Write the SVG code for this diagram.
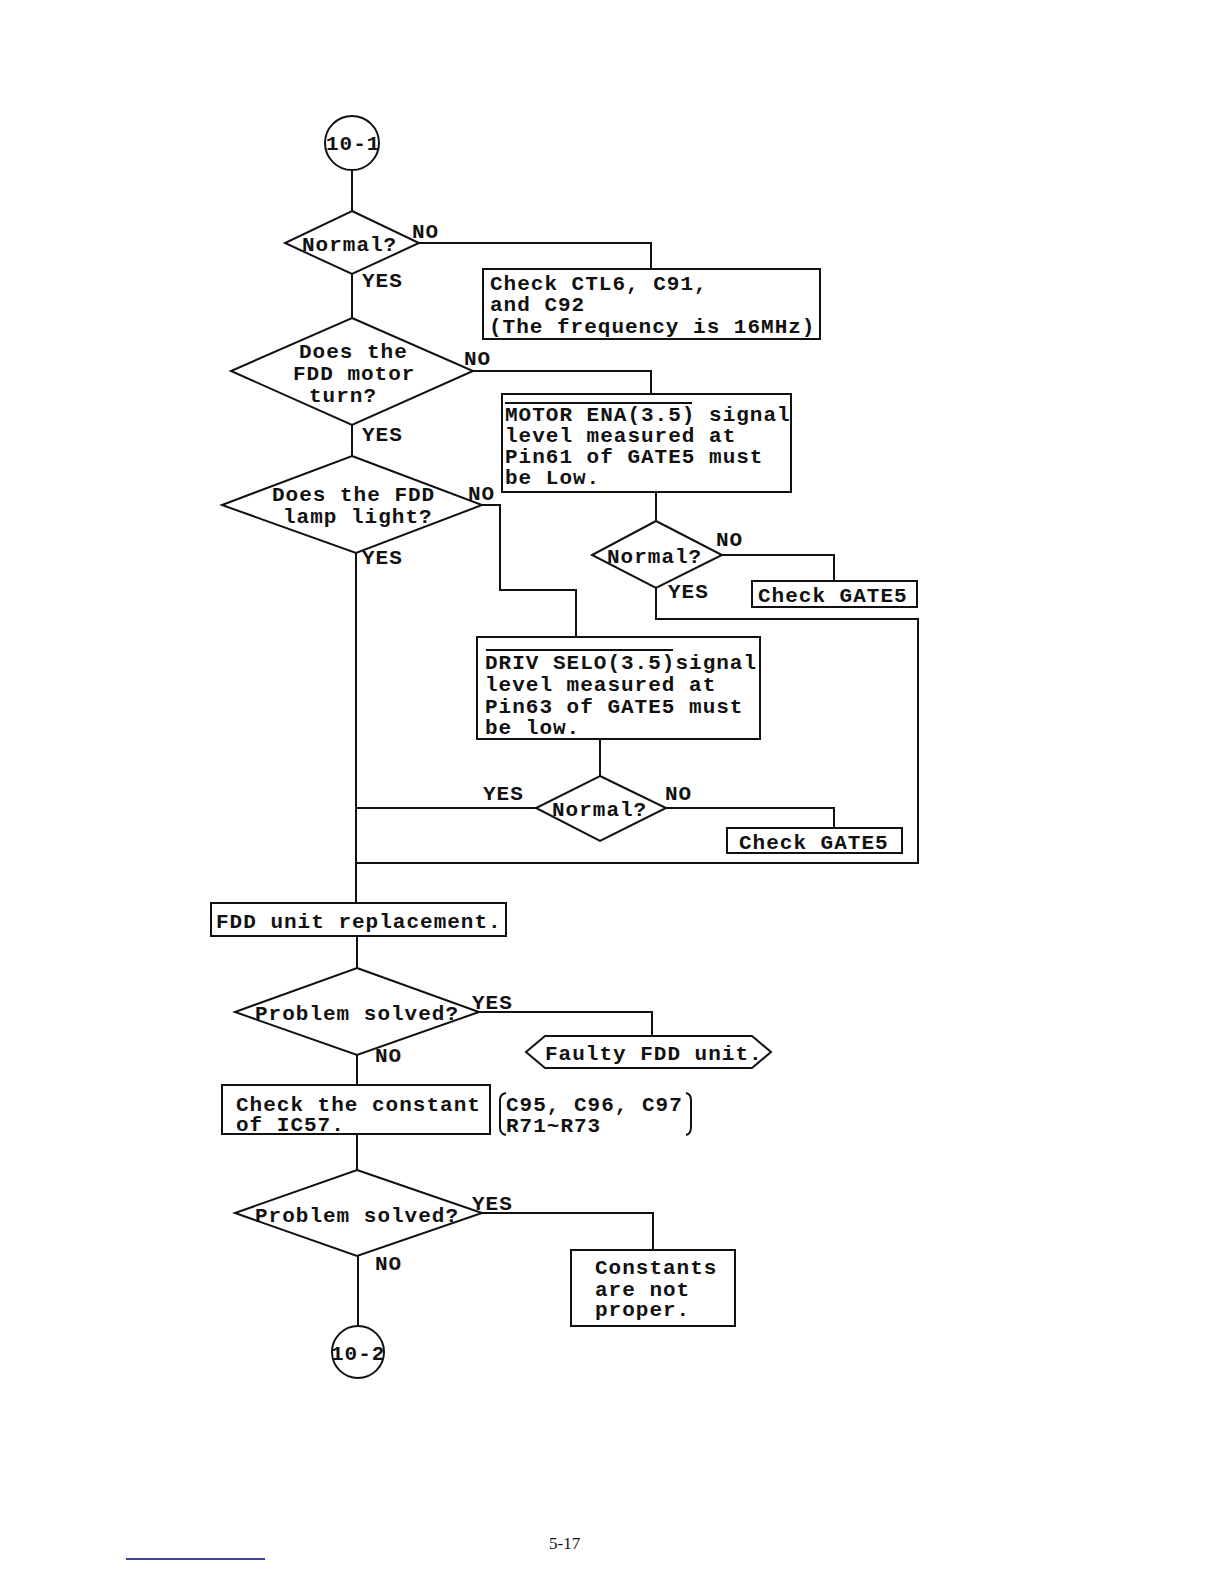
<svg xmlns="http://www.w3.org/2000/svg" width="1224" height="1584" viewBox="0 0 1224 1584">
<style>
.s{fill:none;stroke:#111;stroke-width:2;stroke-linejoin:miter}
.n{fill:#fff;stroke:#111;stroke-width:2}
.t{font-family:"Liberation Mono","DejaVu Sans Mono",monospace;font-size:21px;font-weight:bold;letter-spacing:1px;fill:#111}
.c{text-anchor:middle}
.f{font-family:"Liberation Serif",serif;font-size:17px;fill:#111}
</style>
<rect width="1224" height="1584" fill="#fff"/>
<g id="connectors" class="s">
<path d="M352,170 V211"/>
<path d="M419,243 H651 V269"/>
<path d="M352,274 V318"/>
<path d="M473,371 H651 V394"/>
<path d="M352,425 V456"/>
<path d="M482,505 H500 V590 H576 V637"/>
<path d="M356,553 V903"/>
<path d="M656,492 V521"/>
<path d="M722,555 H834 V581"/>
<path d="M656,588 V619 H918 V863 H356"/>
<path d="M600,739 V776"/>
<path d="M536,808 H356"/>
<path d="M666,808 H834 V828"/>
<path d="M357,936 V968"/>
<path d="M479,1012 H652 V1036"/>
<path d="M357,1055 V1085"/>
<path d="M357,1134 V1170"/>
<path d="M482,1213 H653 V1250"/>
<path d="M358,1256 V1326"/>
</g>
<g id="start">
<circle class="n" cx="352" cy="143" r="27"/>
<text class="t" x="326" y="150">10-1</text>
</g>
<g id="d1">
<polygon class="n" points="352,211 419,243 352,274 285,243"/>
<text class="t" x="302" y="251">Normal?</text>
<text class="t" x="412" y="238">NO</text>
<text class="t" x="362" y="287">YES</text>
</g>
<g id="b1">
<rect class="n" x="483" y="269" width="337" height="70"/>
<text class="t" x="490" y="290">Check CTL6, C91,</text>
<text class="t" x="490" y="311">and C92</text>
<text class="t" x="489" y="333">(The frequency is 16MHz)</text>
</g>
<g id="d2">
<polygon class="n" points="352,318 473,371 352,425 231,371"/>
<text class="t" x="299" y="358">Does the</text>
<text class="t" x="293" y="380">FDD motor</text>
<text class="t" x="309" y="402">turn?</text>
<text class="t" x="464" y="365">NO</text>
<text class="t" x="362" y="441">YES</text>
</g>
<g id="b2">
<rect class="n" x="502" y="394" width="289" height="98"/>
<line class="s" x1="505" y1="403" x2="692" y2="403" stroke-width="1.5"/>
<text class="t" x="505" y="421">MOTOR ENA(3.5) signal</text>
<text class="t" x="505" y="442">level measured at</text>
<text class="t" x="505" y="463">Pin61 of GATE5 must</text>
<text class="t" x="505" y="484">be Low.</text>
</g>
<g id="d3">
<polygon class="n" points="352,456 482,505 356,553 222,505"/>
<text class="t" x="272" y="501">Does the FDD</text>
<text class="t" x="283" y="523">lamp light?</text>
<text class="t" x="468" y="500">NO</text>
<text class="t" x="362" y="564">YES</text>
</g>
<g id="d4">
<polygon class="n" points="656,521 722,555 656,588 592,555"/>
<text class="t" x="607" y="563">Normal?</text>
<text class="t" x="716" y="546">NO</text>
<text class="t" x="668" y="598">YES</text>
</g>
<g id="g1">
<rect class="n" x="752" y="581" width="165" height="26"/>
<text class="t" x="758" y="602">Check GATE5</text>
</g>
<g id="b3">
<rect class="n" x="477" y="637" width="283" height="102"/>
<line class="s" x1="486" y1="650" x2="673" y2="650" stroke-width="1.5"/>
<text class="t" x="485" y="669">DRIV SELO(3.5)signal</text>
<text class="t" x="485" y="691">level measured at</text>
<text class="t" x="485" y="713">Pin63 of GATE5 must</text>
<text class="t" x="485" y="734">be low.</text>
</g>
<g id="d5">
<polygon class="n" points="600,776 666,808 600,841 536,808"/>
<text class="t" x="552" y="816">Normal?</text>
<text class="t" x="483" y="800">YES</text>
<text class="t" x="665" y="800">NO</text>
</g>
<g id="g2">
<rect class="n" x="727" y="828" width="175" height="25"/>
<text class="t" x="739" y="849">Check GATE5</text>
</g>
<g id="fdd">
<rect class="n" x="211" y="903" width="295" height="33"/>
<text class="t" x="216" y="928">FDD unit replacement.</text>
</g>
<g id="d6">
<polygon class="n" points="357,968 479,1012 357,1055 235,1012"/>
<text class="t" x="255" y="1020">Problem solved?</text>
<text class="t" x="472" y="1009">YES</text>
<text class="t" x="375" y="1062">NO</text>
</g>
<g id="faulty">
<polygon class="n" points="526,1052 545,1036 752,1036 771,1052 752,1068 545,1068"/>
<text class="t" x="545" y="1060">Faulty FDD unit.</text>
</g>
<g id="b4">
<rect class="n" x="222" y="1085" width="268" height="49"/>
<text class="t" x="236" y="1111">Check the constant</text>
<text class="t" x="236" y="1131">of IC57.</text>
</g>
<g id="note">
<path class="s" d="M506,1093 Q500,1094 500,1100 V1127 Q500,1134 506,1135"/>
<path class="s" d="M686,1093 Q691,1094 691,1100 V1127 Q691,1134 686,1135"/>
<text class="t" x="506" y="1111">C95, C96, C97</text>
<text class="t" x="506" y="1132">R71~R73</text>
</g>
<g id="d7">
<polygon class="n" points="357,1170 482,1213 357,1256 235,1213"/>
<text class="t" x="255" y="1222">Problem solved?</text>
<text class="t" x="472" y="1210">YES</text>
<text class="t" x="375" y="1270">NO</text>
</g>
<g id="b5">
<rect class="n" x="571" y="1250" width="164" height="76"/>
<text class="t" x="595" y="1274">Constants</text>
<text class="t" x="595" y="1296">are not</text>
<text class="t" x="595" y="1316">proper.</text>
</g>
<g id="end">
<circle class="n" cx="358" cy="1352" r="26"/>
<text class="t" x="331" y="1360">10-2</text>
</g>
<g id="footer">
<line x1="126" y1="1559" x2="265" y2="1559" stroke="#00008b" stroke-width="1.5"/>
<text class="f" x="549" y="1549">5-17</text>
</g>
</svg>
